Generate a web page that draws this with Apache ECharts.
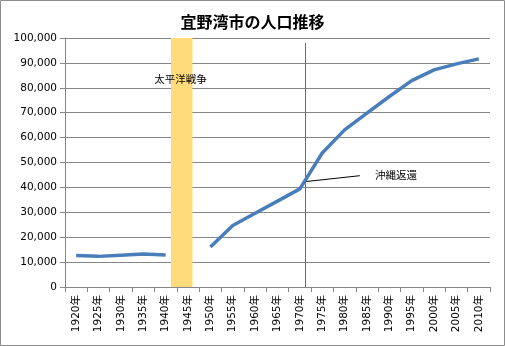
<!DOCTYPE html>
<html><head><meta charset="utf-8">
<script src="https://cdn.jsdelivr.net/npm/echarts@6/dist/echarts.min.js"></script>
<style>html,body{margin:0;padding:0;background:#fff}#c{width:505px;height:346px}</style>
</head><body><div id="c"></div>
<script>
var categories = ['1920年','1925年','1930年','1935年','1940年','1945年','1950年','1955年','1960年','1965年','1970年','1975年','1980年','1985年','1990年','1995年','2000年','2005年','2010年'];
var population = [12700, 12300, 12800, 13250, 12850, null, 16050, 24700, 29600, 34500, 39400, 53800, 63100, 69800, 76500, 82900, 87200, 89600, 91600];
var yTicks = {min: 0, max: 100000, interval: 10000};
var warPeriod = [1941.2, 1946.0];
var warLabel = {text: '太平洋戦争', year: 1943.3, value: 83600};
var reversionYear = 1971.3;
var reversionLineTop = 98000;
var reversionLabel = {text: '沖縄返還', year: 1991.5, value: 45100};
var reversionCallout = [[1971.1, 42300], [1983.4, 44700]];
var yearRange = [1917.5, 2012.5];

var FONT = 'DejaVu Sans, Noto Sans CJK JP, sans-serif';
var chart = echarts.init(document.getElementById('c'), null, {renderer: 'canvas'});
chart.setOption({
  animation: false,
  backgroundColor: '#fff',
  title: {
    text: '宜野湾市の人口推移', left: 'center', top: 9,
    textStyle: {fontFamily: 'Noto Sans CJK JP', fontSize: 16, fontWeight: 'bold', color: '#000'}
  },
  graphic: [{type: 'rect', shape: {x: 0.5, y: 0.5, width: 504, height: 345}, style: {fill: 'none', stroke: '#8c8c8c', lineWidth: 1}, silent: true, z: 100}],
  grid: {left: 65, right: 15, top: 38, bottom: 59, containLabel: false},
  xAxis: [{
    type: 'category', data: categories, boundaryGap: true,
    axisLine: {lineStyle: {color: '#868686'}},
    axisTick: {show: true, length: 5, lineStyle: {color: '#868686'}, interval: 0},
    axisLabel: {rotate: 90, interval: 0, fontFamily: FONT, fontSize: 10.5, color: '#000', margin: 8},
    splitLine: {show: false}
  }, {
    type: 'value', min: yearRange[0], max: yearRange[1], show: false,
    splitLine: {show: false}
  }],
  yAxis: {
    type: 'value', min: yTicks.min, max: yTicks.max, interval: yTicks.interval,
    axisLine: {show: true, lineStyle: {color: '#868686'}},
    axisTick: {show: true, length: 5, lineStyle: {color: '#868686'}},
    axisLabel: {fontFamily: FONT, fontSize: 10.5, color: '#000', margin: 8,
      formatter: function (v) { return v.toLocaleString('en-US'); }},
    splitLine: {lineStyle: {color: '#868686', width: 1}}
  },
  series: [{
    type: 'line', xAxisIndex: 1, data: [], silent: true,
    markArea: {silent: true, itemStyle: {color: '#FFDB7B'}, label: {show: false},
      data: [[{coord: [warPeriod[0], yTicks.max]}, {coord: [warPeriod[1], yTicks.min]}]]},
    markLine: {silent: true, symbol: ['none', 'none'], label: {show: false},
      data: [
        [{coord: [reversionYear, 0], lineStyle: {color: '#4A6FA5', width: 1, type: 'solid'}}, {coord: [reversionYear, reversionLineTop]}],
        [{coord: reversionCallout[0], lineStyle: {color: '#000', width: 1, type: 'solid'}}, {coord: reversionCallout[1]}]
      ]},
    markPoint: {silent: true, symbol: 'circle', symbolSize: 1, itemStyle: {color: 'rgba(0,0,0,0)'},
      label: {show: true, position: 'inside', fontFamily: 'Noto Sans CJK JP', fontSize: 10.5, color: '#000', formatter: '{b}'},
      data: [
        {name: warLabel.text, coord: [warLabel.year, warLabel.value]},
        {name: reversionLabel.text, coord: [reversionLabel.year, reversionLabel.value]}
      ]},
    z: 1
  }, {
    type: 'line', xAxisIndex: 0, data: population, connectNulls: false,
    showSymbol: false, symbol: 'none', smooth: false,
    lineStyle: {color: '#4A7EBB', width: 3.5}, z: 5
  }]
});
</script></body></html>
